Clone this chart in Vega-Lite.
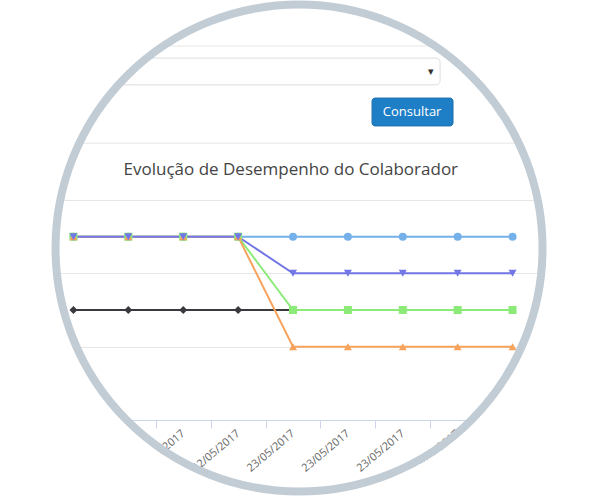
{
  "$schema": "https://vega.github.io/schema/vega-lite/v6.json",
  "width": 494,
  "height": 220,
  "autosize": {"type": "none"},
  "padding": {"left": 46, "top": 200, "right": 60, "bottom": 79},
  "background": "white",
  "config": {
    "view": {"stroke": null},
    "font": "Open Sans"
  },
  "layer": [
    {
      "data": {
        "values": [
          {"serie": "S1", "ponto": 1, "nota": 5},
          {"serie": "S1", "ponto": 2, "nota": 5},
          {"serie": "S1", "ponto": 3, "nota": 5},
          {"serie": "S1", "ponto": 4, "nota": 5},
          {"serie": "S1", "ponto": 5, "nota": 5},
          {"serie": "S1", "ponto": 6, "nota": 5},
          {"serie": "S1", "ponto": 7, "nota": 5},
          {"serie": "S1", "ponto": 8, "nota": 5},
          {"serie": "S1", "ponto": 9, "nota": 5},
          {"serie": "S2", "ponto": 1, "nota": 3},
          {"serie": "S2", "ponto": 2, "nota": 3},
          {"serie": "S2", "ponto": 3, "nota": 3},
          {"serie": "S2", "ponto": 4, "nota": 3},
          {"serie": "S2", "ponto": 5, "nota": 3},
          {"serie": "S3", "ponto": 1, "nota": 5},
          {"serie": "S3", "ponto": 2, "nota": 5},
          {"serie": "S3", "ponto": 3, "nota": 5},
          {"serie": "S3", "ponto": 4, "nota": 5},
          {"serie": "S3", "ponto": 5, "nota": 3},
          {"serie": "S3", "ponto": 6, "nota": 3},
          {"serie": "S3", "ponto": 7, "nota": 3},
          {"serie": "S3", "ponto": 8, "nota": 3},
          {"serie": "S3", "ponto": 9, "nota": 3},
          {"serie": "S4", "ponto": 1, "nota": 5},
          {"serie": "S4", "ponto": 2, "nota": 5},
          {"serie": "S4", "ponto": 3, "nota": 5},
          {"serie": "S4", "ponto": 4, "nota": 5},
          {"serie": "S4", "ponto": 5, "nota": 2},
          {"serie": "S4", "ponto": 6, "nota": 2},
          {"serie": "S4", "ponto": 7, "nota": 2},
          {"serie": "S4", "ponto": 8, "nota": 2},
          {"serie": "S4", "ponto": 9, "nota": 2},
          {"serie": "S5", "ponto": 1, "nota": 5},
          {"serie": "S5", "ponto": 2, "nota": 5},
          {"serie": "S5", "ponto": 3, "nota": 5},
          {"serie": "S5", "ponto": 4, "nota": 5},
          {"serie": "S5", "ponto": 5, "nota": 4},
          {"serie": "S5", "ponto": 6, "nota": 4},
          {"serie": "S5", "ponto": 7, "nota": 4},
          {"serie": "S5", "ponto": 8, "nota": 4},
          {"serie": "S5", "ponto": 9, "nota": 4}
        ]
      },
      "encoding": {
        "x": {
          "field": "ponto",
          "type": "ordinal",
          "scale": {"type": "band", "domain": [1, 2, 3, 4, 5, 6, 7, 8, 9], "paddingInner": 0, "paddingOuter": 0},
          "axis": {
            "title": null,
            "grid": false,
            "labelExpr": "datum.label == '' ? '' : (datum.value <= 4 ? '22/05/2017' : '23/05/2017')",
            "labelAngle": -40,
            "labelAlign": "right",
            "labelBaseline": "middle",
            "labelPadding": 4,
            "labelOverlap": false,
            "labelFontSize": 11,
            "labelColor": "#666666",
            "labelFont": "Open Sans",
            "tickBand": "extent",
            "tickSize": 8,
            "tickColor": "#ccd6eb",
            "domainColor": "#ccd6eb"
          }
        },
        "y": {
          "field": "nota",
          "type": "quantitative",
          "scale": {"domain": [0, 6], "nice": false},
          "axis": {
            "title": null,
            "values": [0, 1, 2, 3, 4, 5, 6],
            "grid": true,
            "gridColor": "#e6e6e6",
            "labels": false,
            "ticks": false,
            "domain": false
          }
        }
      },
      "layer": [
        {
          "mark": {"type": "line", "strokeWidth": 2},
          "encoding": {
            "color": {
              "field": "serie",
              "type": "nominal",
              "scale": {"domain": ["S1", "S2", "S3", "S4", "S5"], "range": ["#74b0ea", "#3a3a3e", "#8ceb78", "#f7a35c", "#7276e6"]},
              "legend": null
            }
          }
        },
        {
          "mark": {"type": "point", "filled": true, "size": 64, "opacity": 1},
          "encoding": {
            "color": {"field": "serie", "type": "nominal", "legend": null},
            "shape": {
              "field": "serie",
              "type": "nominal",
              "scale": {"domain": ["S1", "S2", "S3", "S4", "S5"], "range": ["circle", "diamond", "square", "triangle-up", "triangle-down"]},
              "legend": null
            }
          }
        }
      ]
    },
    {
      "data": {"values": [{"texto": "Evolução de Desempenho do Colaborador"}]},
      "mark": {"type": "text", "font": "Open Sans", "fontSize": 17, "color": "#444444", "align": "center", "baseline": "middle"},
      "encoding": {
        "x": {"datum": 5, "type": "ordinal", "bandPosition": 0.46},
        "y": {"datum": 6.82, "type": "quantitative"},
        "text": {"field": "texto", "type": "nominal"}
      }
    },
    {
      "data": {"values": [{"nivel": 10.2}, {"nivel": 7.55}]},
      "mark": {"type": "rule", "color": "#e6e6e6", "strokeWidth": 1},
      "encoding": {
        "x": {"datum": 1, "type": "ordinal", "bandPosition": 0},
        "x2": {"datum": 9, "bandPosition": 1},
        "y": {"field": "nivel", "type": "quantitative"}
      }
    },
    {
      "data": {"values": [{"campo": "seleção"}]},
      "mark": {"type": "rect", "fill": "white", "stroke": "#dddddd", "strokeWidth": 1, "cornerRadius": 4},
      "encoding": {
        "x": {"datum": 1, "type": "ordinal", "bandPosition": 0},
        "x2": {"datum": 8, "bandPosition": 0.18},
        "y": {"datum": 9.87, "type": "quantitative"},
        "y2": {"datum": 9.14}
      }
    },
    {
      "data": {"values": [{"seta": "▾"}]},
      "mark": {"type": "text", "fontSize": 11, "color": "#333333", "align": "center", "baseline": "middle"},
      "encoding": {
        "x": {"datum": 8, "type": "ordinal", "bandPosition": 0.01},
        "y": {"datum": 9.49, "type": "quantitative"},
        "text": {"field": "seta", "type": "nominal"}
      }
    },
    {
      "data": {"values": [{"botao": "Consultar"}]},
      "mark": {"type": "rect", "fill": "#1f7fc6", "stroke": "#1a6fae", "strokeWidth": 1, "cornerRadius": 3},
      "encoding": {
        "x": {"datum": 6, "type": "ordinal", "bandPosition": 0.94},
        "x2": {"datum": 8, "bandPosition": 0.415},
        "y": {"datum": 8.78, "type": "quantitative"},
        "y2": {"datum": 8.02}
      }
    },
    {
      "data": {"values": [{"botao": "Consultar"}]},
      "mark": {"type": "text", "font": "Open Sans", "fontSize": 13, "color": "white", "align": "center", "baseline": "middle"},
      "encoding": {
        "x": {"datum": 7, "type": "ordinal", "bandPosition": 0.67},
        "y": {"datum": 8.4, "type": "quantitative"},
        "text": {"field": "botao", "type": "nominal"}
      }
    },
    {
      "data": {"values": [{"moldura": "fora"}]},
      "mark": {"type": "point", "shape": "circle", "filled": false, "size": 632025, "stroke": "white", "strokeWidth": 300, "opacity": 1},
      "encoding": {
        "x": {"datum": 5, "type": "ordinal", "bandPosition": 0.61},
        "y": {"datum": 4.69, "type": "quantitative"}
      }
    },
    {
      "data": {"values": [{"moldura": "anel"}]},
      "mark": {"type": "point", "shape": "circle", "filled": false, "size": 237169, "stroke": "#c2ccd5", "strokeWidth": 8, "opacity": 1},
      "encoding": {
        "x": {"datum": 5, "type": "ordinal", "bandPosition": 0.61},
        "y": {"datum": 4.69, "type": "quantitative"}
      }
    }
  ]
}
